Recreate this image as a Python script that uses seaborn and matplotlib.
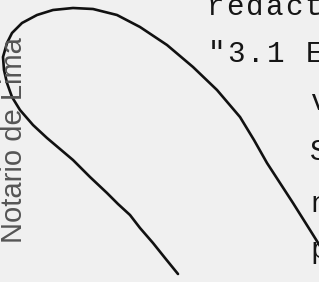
import matplotlib
matplotlib.use('Agg')
import matplotlib.pyplot as plt
import seaborn as sns

# curve (pixel coords, y downwards)
curve_x = [178, 165, 153, 140, 130, 118, 107, 90, 73, 60, 47, 33, 20, 12, 7, 4, 3, 7, 12, 22, 37, 53, 73, 93,
           117, 140, 167, 193, 217, 240, 254, 267, 280, 293, 310, 320]
curve_y = [274, 258, 243, 228, 215, 204, 193, 177, 160, 149, 138, 125, 110, 97, 83, 70, 57, 43, 33, 23, 15, 10, 8, 9,
           15, 27, 45, 67, 90, 117, 140, 163, 183, 203, 230, 246]

# typewriter lines (visible fragments) and their baselines
type_lines = ['redact', '"3.1 E', 'v', 'S', 'n', 'p']
line_x = [207, 208, 310, 310, 310, 310]
line_y = [15, 62, 110, 160, 212, 258]

stamp_text = 'Notario de Lima'

sns.set_style('white')
plt.rcParams['font.family'] = ['Liberation Sans', 'DejaVu Sans']

fig = plt.figure(figsize=(3.19, 2.82), dpi=100, facecolor='#f0f0f0')
ax = fig.add_axes([0, 0, 1, 1])
ax.set_facecolor('#f0f0f0')

sns.lineplot(x=curve_x, y=curve_y, sort=False, estimator=None, color='#111111', linewidth=1.9, ax=ax)

# typewriter text, fixed pitch
pitch = 19.5
for text, x0, y0 in zip(type_lines, line_x, line_y):
    for i, ch in enumerate(text):
        ax.text(x0 + i * pitch, y0, ch, family='Liberation Mono', fontsize=21,
                color='#151515', ha='left', va='baseline')

ax.text(14, 243, stamp_text, rotation=90, fontsize=21, color='#555555',
        ha='center', va='bottom')

ax.set_xlim(0, 319)
ax.set_ylim(282, 0)
ax.axis('off')

fig.savefig('out.png', dpi=100, facecolor='#f0f0f0')
